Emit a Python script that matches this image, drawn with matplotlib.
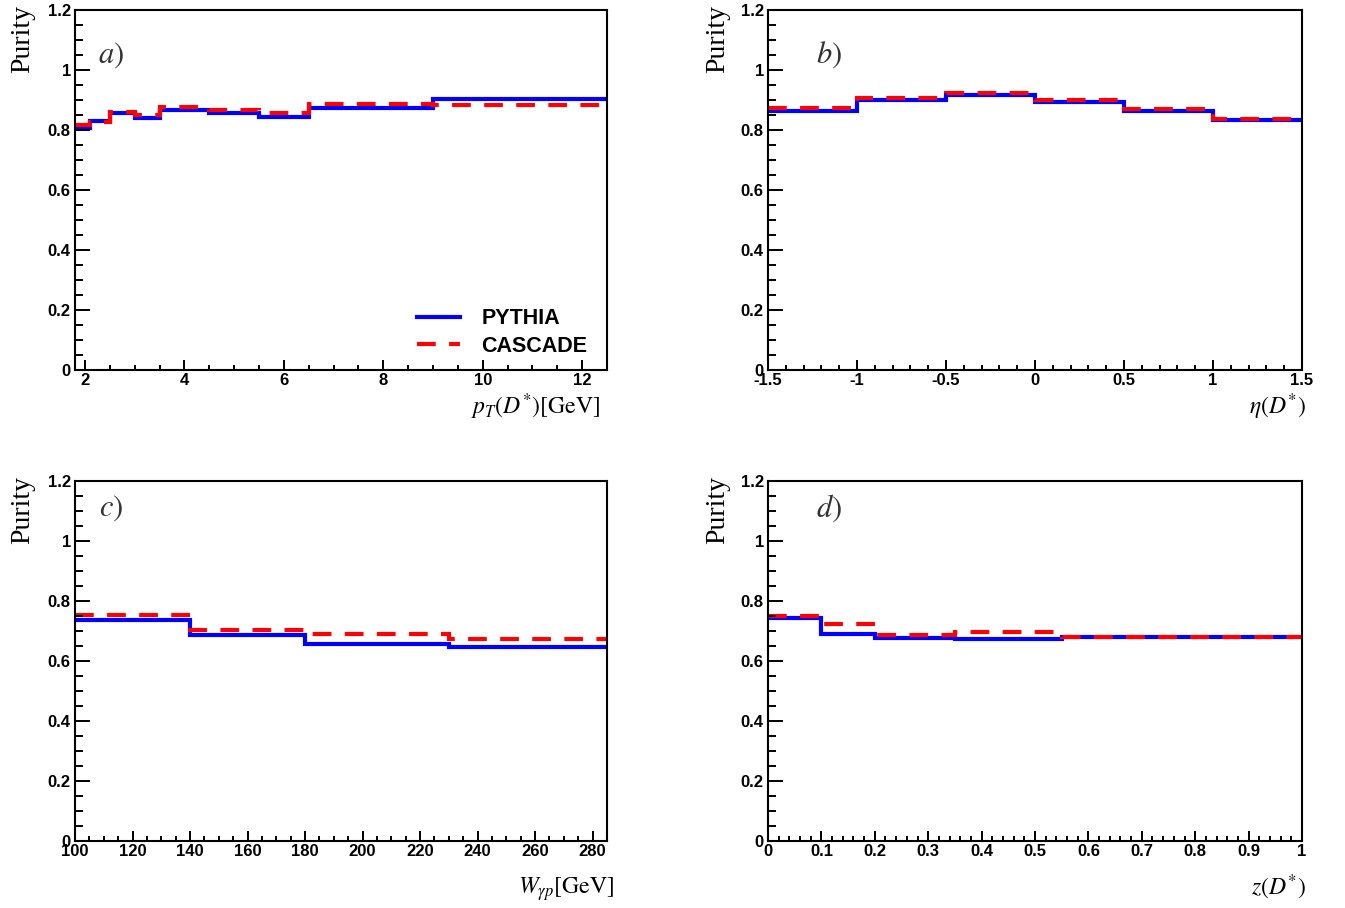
import matplotlib
matplotlib.use("Agg")
import matplotlib.pyplot as plt
from matplotlib.ticker import MultipleLocator, FormatStrFormatter

plt.rcParams["mathtext.fontset"] = "stix"
plt.rcParams["font.family"] = "Liberation Sans"

# ---- data (bin edges + purity per bin) ----
pt_edges = [1.8, 2.1, 2.5, 3.0, 3.5, 4.5, 5.5, 6.5, 9.0, 12.5]
pt_pythia = [0.805, 0.831, 0.856, 0.840, 0.868, 0.856, 0.843, 0.872, 0.903]
pt_cascade = [0.816, 0.828, 0.860, 0.851, 0.877, 0.868, 0.858, 0.886, 0.882]

eta_edges = [-1.5, -1.0, -0.5, 0.0, 0.5, 1.0, 1.5]
eta_pythia = [0.864, 0.900, 0.917, 0.893, 0.864, 0.833]
eta_cascade = [0.873, 0.908, 0.924, 0.901, 0.871, 0.838]

w_edges = [100, 140, 180, 230, 285]
w_pythia = [0.738, 0.686, 0.658, 0.646]
w_cascade = [0.753, 0.702, 0.689, 0.674]

z_edges = [0.0, 0.1, 0.2, 0.35, 0.55, 1.0]
z_pythia = [0.742, 0.689, 0.678, 0.672, 0.679]
z_cascade = [0.751, 0.723, 0.687, 0.697, 0.680]

panels = [
    ("a", pt_edges, pt_pythia, pt_cascade, r"$p_T(D^{*})[\mathrm{GeV}]$", 2, 0.5, (1.8, 12.5)),
    ("b", eta_edges, eta_pythia, eta_cascade, r"$\eta(D^{*})$", 0.5, 0.1, (-1.5, 1.5)),
    ("c", w_edges, w_pythia, w_cascade, r"$W_{\gamma p}[\mathrm{GeV}]$", 20, 5, (100, 285)),
    ("d", z_edges, z_pythia, z_cascade, r"$z(D^{*})$", 0.1, 0.02, (0.0, 1.0)),
]

# axes boxes in pixels: (left, top, right, bottom)
W, H = 1345, 908
boxes = [(75, 10, 607, 370), (768, 10, 1302, 370),
         (75, 481, 607, 841), (768, 481, 1302, 841)]
xlabel_xy = [(0.987, -0.102), (1.007, -0.102), (1.013, -0.133), (1.007, -0.128)]
label_pos = [(0.068, 0.875), (0.114, 0.875), (0.068, 0.925), (0.114, 0.925)]

fig = plt.figure(figsize=(W / 100, H / 100), dpi=100)

for i, (tag, edges, pyth, casc, xlab, major, minor, xlim) in enumerate(panels):
    l, t, r, b = boxes[i]
    ax = fig.add_axes([l / W, 1 - b / H, (r - l) / W, (b - t) / H])
    ax.stairs(pyth, edges, baseline=None, color="#0000ff", lw=3.0, label="PYTHIA")
    ax.stairs(casc, edges, baseline=None, color="#ff0000", lw=3.0,
              linestyle=(0, (4.5, 3.2)), label="CASCADE")
    ax.set_xlim(*xlim)
    ax.set_ylim(0, 1.2)

    ax.xaxis.set_major_locator(MultipleLocator(major))
    ax.xaxis.set_minor_locator(MultipleLocator(minor))
    ax.yaxis.set_major_locator(MultipleLocator(0.2))
    ax.yaxis.set_minor_locator(MultipleLocator(0.05))
    ax.xaxis.set_major_formatter(FormatStrFormatter("%g"))
    ax.yaxis.set_major_formatter(FormatStrFormatter("%g"))
    ax.tick_params(axis="both", which="both", direction="in", top=False, right=False,
                   width=1.4, labelsize=12)
    ax.tick_params(axis="y", which="major", length=11, pad=3)
    ax.tick_params(axis="y", which="minor", length=5.5)
    ax.tick_params(axis="x", which="major", length=7.5, pad=2)
    ax.tick_params(axis="x", which="minor", length=3.8)
    for lab in ax.get_xticklabels() + ax.get_yticklabels():
        lab.set_fontweight("bold")
    for sp in ax.spines.values():
        sp.set_linewidth(1.5)

    ax.set_xlabel(xlab, fontsize=17, ha="right", va="center")
    ax.xaxis.set_label_coords(*xlabel_xy[i])
    ax.set_ylabel("Purity", fontsize=20, family="Liberation Serif", ha="right", va="center")
    ax.yaxis.set_label_coords(-0.098 if i % 2 == 0 else -0.094, 1.014)

    ax.text(*label_pos[i], r"$%s)$" % tag, transform=ax.transAxes, fontsize=22,
            ha="center", va="center", color="#333333")

    if tag == "a":
        ax.legend(loc="lower right", bbox_to_anchor=(1.0, -0.017), frameon=False,
                  handlelength=2.0, handletextpad=1.0, labelspacing=0.3,
                  prop={"weight": "bold", "size": 15.5})

fig.savefig("out.png", dpi=100)
